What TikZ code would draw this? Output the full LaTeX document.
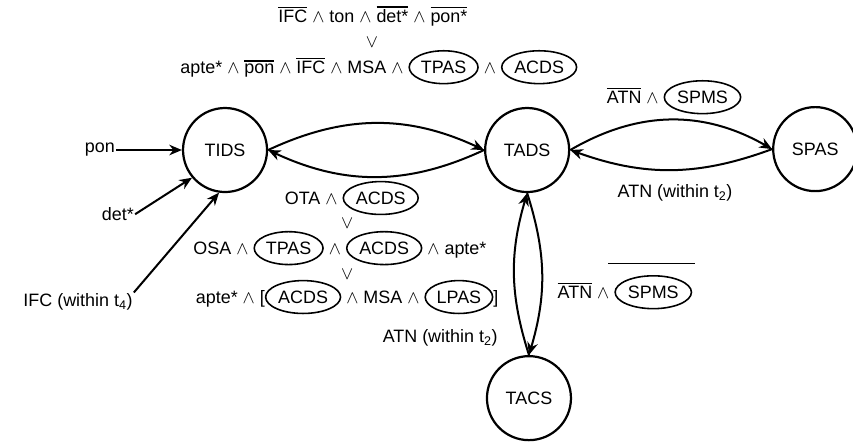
\documentclass[tikz,border=0pt]{standalone}
\usepackage{fontspec}
\setmainfont{Liberation Sans}
\usepackage{tikz}
\usetikzlibrary{shapes.geometric, arrows.meta}

% text size of all labels
\newcommand{\condfont}{\fontsize{17}{20}\selectfont}
% negated signal: bar over the word
\newcommand{\negd}[1]{\leavevmode\vbox{\hrule height 1.3pt \kern 1.8pt \hbox{#1}}}
% state reference: word in an oval
\newcommand{\ringed}[1]{\tikz[baseline=(r.base)]\node[draw, ellipse, line width=1.5pt, inner xsep=1.5pt, inner ysep=5pt] (r) {#1};}

\begin{document}
\begin{tikzpicture}[
    state/.style={draw, circle, line width=2.1pt, minimum size=2.8cm, inner sep=0pt, font=\condfont},
    trans/.style={line width=1.9pt, -{Stealth[length=12pt, width=10pt]}},
    cond/.style={font=\condfont, inner sep=1pt},
  ]
  \useasboundingbox (0,0) rectangle (28.43,14.77);

  % States
  \node[state] (tids) at (7.5, 9.77) {TIDS};
  \node[state] (tads) at (17.57, 9.77) {TADS};
  \node[state] (spas) at (27.17, 9.8) {SPAS};
  \node[state] (tacs) at (17.63, 1.5) {TACS};

  % Transitions between states
  \draw[trans] (tids.east) to[bend left=25] (tads.west);
  \draw[trans] (tads.west) to[bend left=25] (tids.east);
  \draw[trans] (tads.east) to[bend left=30] (spas.west);
  \draw[trans] (spas.west) to[bend left=20] (tads.east);
  \draw[trans] (tacs.north) to[bend left=17] (tads.south);
  \draw[trans] (tads.south) to[bend left=17] (tacs.north);

  % Inputs into TIDS
  \node[cond] (pon) at (3.33, 9.77) {pon};
  \node[cond] (det) at (3.93, 7.63) {det*};
  \node[cond] (ifc) at (2.6, 4.7) {IFC (within t\textsubscript{4})};
  \draw[trans] (pon) -- (tids);
  \draw[trans] (det.east) -- (tids.220);
  \draw[trans] (ifc.north east) -- (tids.262);

  % TIDS -> TADS
  \node[cond] (upA) at (12.43, 14.23) {\negd{IFC} $\wedge$ ton $\wedge$ \negd{det*} $\wedge$ \negd{pon*}};
  \node[cond] (orA) at (12.4, 13.37) {$\vee$};
  \node[cond] (upB) at (12.63, 12.53) {apte* $\wedge$ \negd{pon} $\wedge$ \negd{IFC} $\wedge$ MSA $\wedge$ \ringed{TPAS} $\wedge$ \ringed{ACDS}};

  % TADS -> TIDS
  \node[cond] (dnA) at (11.73, 8.17) {OTA $\wedge$ \ringed{ACDS}};
  \node[cond] (orB) at (11.57, 7.33) {$\vee$};
  \node[cond] (dnB) at (11.33, 6.5) {OSA $\wedge$ \ringed{TPAS} $\wedge$ \ringed{ACDS} $\wedge$ apte*};
  \node[cond] (orC) at (11.57, 5.63) {$\vee$};
  \node[cond] (dnC) at (11.57, 4.87) {apte* $\wedge$ [\ringed{ACDS} $\wedge$ MSA $\wedge$ \ringed{LPAS}]};

  % TADS <-> SPAS
  \node[cond] (spmsA) at (22.47, 11.53) {\negd{ATN} $\wedge$ \ringed{SPMS}};
  \node[cond] (atnA) at (22.5, 8.33) {ATN (within t\textsubscript{2})};

  % TADS <-> TACS
  \node[cond] (spmsB) at (20.83, 5.03) {\negd{ATN} $\wedge$ \ringed{SPMS}};
  \draw[line width=1.3pt] ([shift={(-2.85,0.35)}]spmsB.north east) -- ([shift={(0.05,0.35)}]spmsB.north east);
  \node[cond] (atnB) at (14.67, 3.5) {ATN (within t\textsubscript{2})};
\end{tikzpicture}
\end{document}
